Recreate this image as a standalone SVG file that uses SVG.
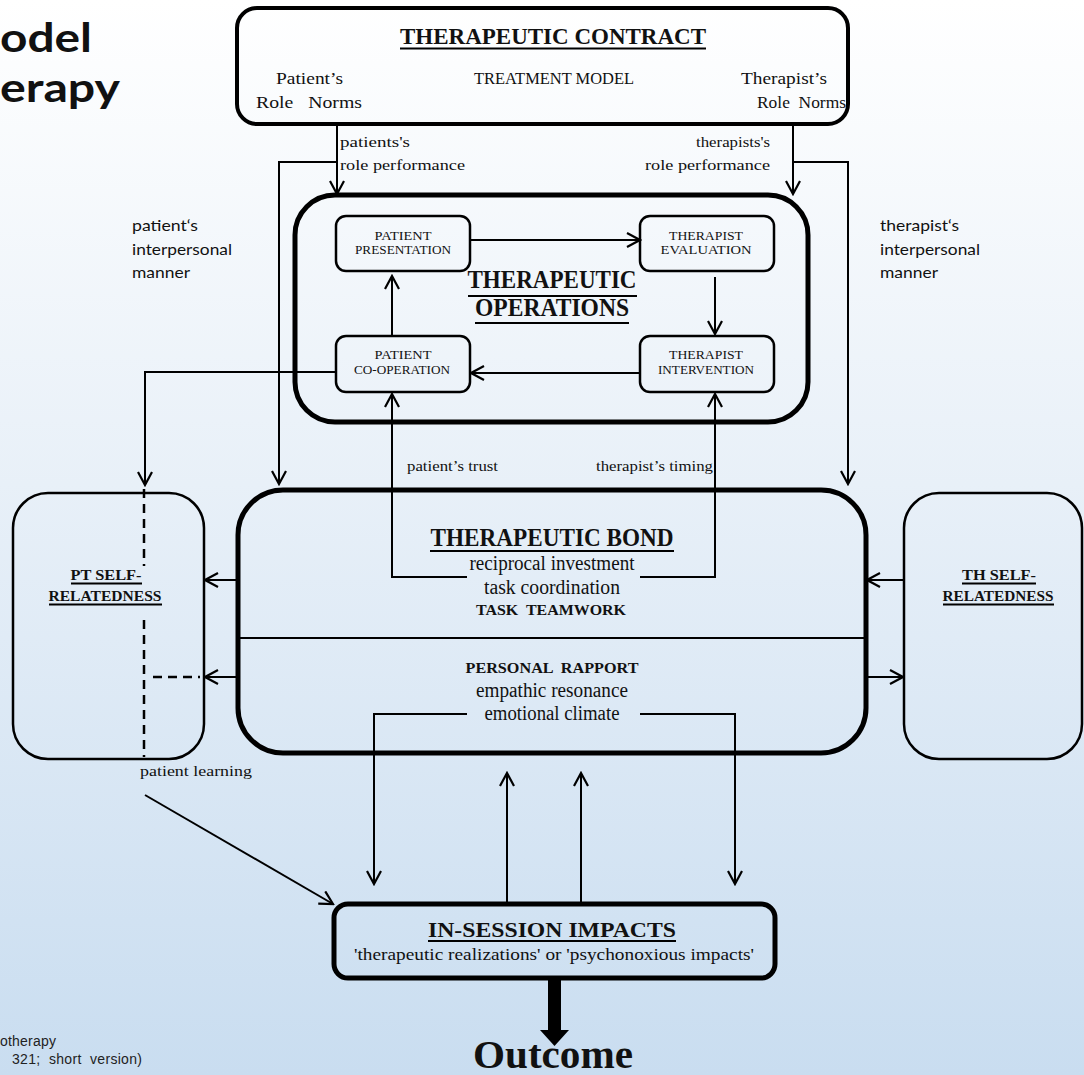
<svg xmlns="http://www.w3.org/2000/svg" width="1084" height="1075" viewBox="0 0 1084 1075">
<defs>
<linearGradient id="bg" x1="0" y1="0" x2="0" y2="1">
<stop offset="0" stop-color="#ffffff"/>
<stop offset="0.45" stop-color="#e8f0f8"/>
<stop offset="1" stop-color="#c9ddf0"/>
</linearGradient>
<marker id="ah" viewBox="0 0 16 16" refX="14" refY="8" markerWidth="16" markerHeight="16" markerUnits="userSpaceOnUse" orient="auto">
<path d="M1,1 L14,8 L1,15" fill="none" stroke="#000" stroke-width="2.2"/>
</marker>
<style>
.serif{font-family:"Liberation Serif","Times New Roman",serif;fill:#111;}
.sans{font-family:"Lato","Open Sans",sans-serif;fill:#111;}
.arial{font-family:"Liberation Sans",Arial,sans-serif;fill:#222;}
.b{font-weight:bold;}
.box{fill:none;stroke:#000;}
.thick{stroke-width:5;}
.med{stroke-width:4;}
.thin{stroke-width:2.5;}
.arr{fill:none;stroke:#000;stroke-width:2;marker-end:url(#ah);}
.dash{fill:none;stroke:#000;stroke-width:2.5;stroke-dasharray:9 6;}
.ul{stroke:#000;stroke-width:1.8;}
.pre{white-space:pre;}
</style>
</defs>
<rect x="0" y="0" width="1084" height="1075" fill="url(#bg)"/>

<g id="title">
<text class="sans b" x="0" y="52" font-size="41" textLength="92" lengthAdjust="spacingAndGlyphs">odel</text>
<text class="sans b" x="0" y="102" font-size="41" textLength="120" lengthAdjust="spacingAndGlyphs">erapy</text>
</g>

<g id="citation">
<text class="arial" x="0" y="1046" font-size="14" textLength="56">otherapy</text>
<text class="arial pre" x="12" y="1064" font-size="14" textLength="130">321;  short  version)</text>
</g>

<g id="connectors">
<path class="arr" d="M337,124 V194"/>
<path class="arr" d="M337,162 H279 V484"/>
<path class="arr" d="M793,124 V194"/>
<path class="arr" d="M793,162 H848 V484"/>
<path class="arr" d="M470,240 H640"/>
<path class="arr" d="M715,277 V334"/>
<path class="arr" d="M640,373 H471"/>
<path class="arr" d="M392,336 V276"/>
<path class="arr" d="M336,372 H145 V485"/>
<path class="arr" d="M467,577 H392 V394"/>
<path class="arr" d="M640,577 H715 V394"/>
<path class="arr" d="M467,714 H374 V884"/>
<path class="arr" d="M640,714 H735 V884"/>
<path class="arr" d="M507,904 V773"/>
<path class="arr" d="M581,904 V773"/>
<path class="arr" d="M238,580 H205"/>
<path class="arr" d="M238,677 H205"/>
<path class="arr" d="M904,580 H867"/>
<path class="arr" d="M866,677 H903"/>
<path class="arr" d="M145,795 L333,904"/>
<path class="dash" d="M144,489 V566"/>
<path class="dash" d="M144,620 V757"/>
<path class="dash" d="M153,677 H200"/>
<path d="M548,978 V1030 H540 L554.5,1046 L569,1030 H561 V978 Z" fill="#000"/>
</g>

<g id="connector-labels">
<text class="serif" x="340" y="147" font-size="15" textLength="70" lengthAdjust="spacingAndGlyphs">patients's</text>
<text class="serif" x="340" y="170" font-size="15" textLength="125" lengthAdjust="spacingAndGlyphs">role performance</text>
<text class="serif" x="770" y="147" font-size="15" text-anchor="end" textLength="74" lengthAdjust="spacingAndGlyphs">therapists's</text>
<text class="serif" x="770" y="170" font-size="15" text-anchor="end" textLength="125" lengthAdjust="spacingAndGlyphs">role performance</text>
<text class="sans" x="132" y="231" font-size="15" textLength="66" lengthAdjust="spacingAndGlyphs">patient‘s</text>
<text class="sans" x="132" y="255" font-size="15" textLength="100" lengthAdjust="spacingAndGlyphs">interpersonal</text>
<text class="sans" x="132" y="278" font-size="15" textLength="58" lengthAdjust="spacingAndGlyphs">manner</text>
<text class="sans" x="880" y="231" font-size="15" textLength="79" lengthAdjust="spacingAndGlyphs">therapist‘s</text>
<text class="sans" x="880" y="255" font-size="15" textLength="100" lengthAdjust="spacingAndGlyphs">interpersonal</text>
<text class="sans" x="880" y="278" font-size="15" textLength="58" lengthAdjust="spacingAndGlyphs">manner</text>
<text class="serif" x="407" y="471" font-size="15.5" textLength="91" lengthAdjust="spacingAndGlyphs">patient’s trust</text>
<text class="serif" x="596" y="471" font-size="15.5" textLength="117" lengthAdjust="spacingAndGlyphs">therapist’s timing</text>
<text class="serif" x="140" y="776" font-size="15" textLength="112" lengthAdjust="spacingAndGlyphs">patient learning</text>
</g>

<g id="contract">
<rect class="box med" x="237" y="8" width="611" height="116" rx="20"/>
<text class="serif b" x="553" y="44" font-size="23" text-anchor="middle" textLength="306" lengthAdjust="spacingAndGlyphs">THERAPEUTIC CONTRACT</text>
<line class="ul" x1="400" y1="48.5" x2="706" y2="48.5"/>
<text class="serif" x="276" y="84" font-size="17.5" textLength="67" lengthAdjust="spacingAndGlyphs">Patient’s</text>
<text class="serif pre" x="256" y="108" font-size="17.5" textLength="106" lengthAdjust="spacingAndGlyphs">Role   Norms</text>
<text class="serif" x="554" y="84" font-size="17.5" text-anchor="middle" textLength="160" lengthAdjust="spacingAndGlyphs">TREATMENT MODEL</text>
<text class="serif" x="827" y="84" font-size="17.5" text-anchor="end" textLength="86" lengthAdjust="spacingAndGlyphs">Therapist’s</text>
<text class="serif pre" x="846" y="108" font-size="17.5" text-anchor="end" textLength="89" lengthAdjust="spacingAndGlyphs">Role  Norms</text>
</g>

<g id="operations">
<rect class="box thick" x="295" y="195" width="513" height="227" rx="40"/>
<text class="serif b" x="552" y="288" font-size="25" text-anchor="middle" textLength="169" lengthAdjust="spacingAndGlyphs">THERAPEUTIC</text>
<line class="ul" x1="468" y1="296" x2="637" y2="296"/>
<text class="serif b" x="552" y="316" font-size="25" text-anchor="middle" textLength="154" lengthAdjust="spacingAndGlyphs">OPERATIONS</text>
<line class="ul" x1="475" y1="323" x2="629" y2="323"/>
</g>

<g id="patient-presentation">
<rect class="box thin" x="336" y="216" width="134" height="55" rx="10"/>
<text class="serif" x="403" y="240" font-size="13" text-anchor="middle" textLength="57" lengthAdjust="spacingAndGlyphs">PATIENT</text>
<text class="serif" x="403" y="254" font-size="13" text-anchor="middle" textLength="96" lengthAdjust="spacingAndGlyphs">PRESENTATION</text>
</g>

<g id="therapist-evaluation">
<rect class="box thin" x="640" y="216" width="134" height="55" rx="10"/>
<text class="serif" x="706" y="240" font-size="13" text-anchor="middle" textLength="74" lengthAdjust="spacingAndGlyphs">THERAPIST</text>
<text class="serif" x="706" y="254" font-size="13" text-anchor="middle" textLength="91" lengthAdjust="spacingAndGlyphs">EVALUATION</text>
</g>

<g id="patient-cooperation">
<rect class="box thin" x="336" y="336" width="134" height="56" rx="10"/>
<text class="serif" x="403" y="359" font-size="13" text-anchor="middle" textLength="57" lengthAdjust="spacingAndGlyphs">PATIENT</text>
<text class="serif" x="402" y="374" font-size="13" text-anchor="middle" textLength="96" lengthAdjust="spacingAndGlyphs">CO-OPERATION</text>
</g>

<g id="therapist-intervention">
<rect class="box thin" x="640" y="336" width="134" height="56" rx="10"/>
<text class="serif" x="706" y="359" font-size="13" text-anchor="middle" textLength="74" lengthAdjust="spacingAndGlyphs">THERAPIST</text>
<text class="serif" x="706" y="374" font-size="13" text-anchor="middle" textLength="96" lengthAdjust="spacingAndGlyphs">INTERVENTION</text>
</g>

<g id="bond">
<rect class="box thick" x="238" y="490" width="628" height="263" rx="45"/>
<line x1="238" y1="638" x2="866" y2="638" stroke="#000" stroke-width="2"/>
<text class="serif b" x="552" y="546" font-size="25" text-anchor="middle" textLength="243" lengthAdjust="spacingAndGlyphs">THERAPEUTIC BOND</text>
<line class="ul" x1="430" y1="551" x2="674" y2="551"/>
<text class="serif" x="552" y="570" font-size="20" text-anchor="middle" textLength="165" lengthAdjust="spacingAndGlyphs">reciprocal investment</text>
<text class="serif" x="552" y="594" font-size="20" text-anchor="middle" textLength="136" lengthAdjust="spacingAndGlyphs">task coordination</text>
<text class="serif b pre" x="551" y="615" font-size="15.5" text-anchor="middle" textLength="150" lengthAdjust="spacingAndGlyphs">TASK  TEAMWORK</text>
<text class="serif b pre" x="552" y="673" font-size="15.5" text-anchor="middle" textLength="173" lengthAdjust="spacingAndGlyphs">PERSONAL  RAPPORT</text>
<text class="serif" x="552" y="697" font-size="20" text-anchor="middle" textLength="152" lengthAdjust="spacingAndGlyphs">empathic resonance</text>
<text class="serif" x="552" y="720" font-size="20" text-anchor="middle" textLength="135" lengthAdjust="spacingAndGlyphs">emotional climate</text>
</g>

<g id="pt-self">
<rect class="box thin" x="13" y="493" width="191" height="266" rx="35"/>
<text class="serif b" x="106" y="580" font-size="15" text-anchor="middle" textLength="71" lengthAdjust="spacingAndGlyphs">PT SELF-</text>
<line class="ul" x1="71" y1="583.5" x2="142" y2="583.5" stroke-width="1.5"/>
<text class="serif b" x="105" y="601" font-size="15" text-anchor="middle" textLength="113" lengthAdjust="spacingAndGlyphs">RELATEDNESS</text>
<line class="ul" x1="49" y1="604.5" x2="162" y2="604.5" stroke-width="1.5"/>
</g>

<g id="th-self">
<rect class="box thin" x="904" y="493" width="178" height="266" rx="35"/>
<text class="serif b" x="999" y="580" font-size="15" text-anchor="middle" textLength="74" lengthAdjust="spacingAndGlyphs">TH SELF-</text>
<line class="ul" x1="962" y1="583.5" x2="1036" y2="583.5" stroke-width="1.5"/>
<text class="serif b" x="998" y="601" font-size="15" text-anchor="middle" textLength="111" lengthAdjust="spacingAndGlyphs">RELATEDNESS</text>
<line class="ul" x1="943" y1="604.5" x2="1054" y2="604.5" stroke-width="1.5"/>
</g>

<g id="impacts">
<rect class="box thick" x="334" y="904" width="441" height="74" rx="14"/>
<text class="serif b" x="552" y="937" font-size="22" text-anchor="middle" textLength="248" lengthAdjust="spacingAndGlyphs">IN-SESSION IMPACTS</text>
<line class="ul" x1="428" y1="941" x2="676" y2="941"/>
<text class="serif" x="554" y="960" font-size="17" text-anchor="middle" textLength="400" lengthAdjust="spacingAndGlyphs">'therapeutic realizations' or 'psychonoxious impacts'</text>
</g>

<g id="outcome">
<text class="serif b" x="553" y="1068" font-size="40" text-anchor="middle" textLength="160" lengthAdjust="spacingAndGlyphs">Outcome</text>
</g>
</svg>
